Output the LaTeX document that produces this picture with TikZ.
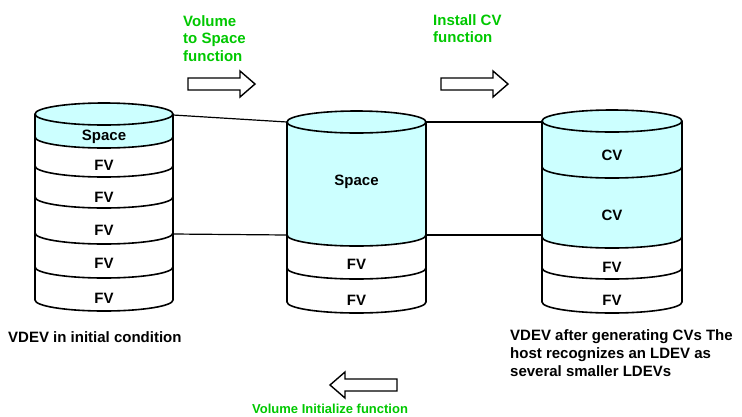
\documentclass[tikz,border=0pt]{standalone}
\usepackage{fontspec}
\setmainfont{Liberation Sans}
\usepackage{tikz}
\usetikzlibrary{positioning}
\definecolor{fngreen}{HTML}{00C800}
\definecolor{spacecyan}{HTML}{CCFFFF}

\begin{document}
\begin{tikzpicture}[
  x=1pt,y=-1pt,
  vol/.style={draw=black,line width=1.6pt},
  lab/.style={font=\fontsize{15}{18}\selectfont\bfseries,inner sep=0pt},
  fn/.style={font=\fontsize{15}{17.5}\selectfont\bfseries,text=fngreen,
             align=left,inner sep=0pt,anchor=north west},
  caption/.style={font=\fontsize{15}{18}\selectfont\bfseries,align=left,
                  inner sep=0pt,anchor=north west},
  link/.style={line width=1.2pt},
  hollowarrow/.pic={\draw[line width=1.4pt,fill=white]
      (0,-6) -- (52,-6) -- (52,-13) -- (67,0) -- (52,13) -- (52,6) -- (0,6) -- cycle;}
]
\useasboundingbox (0,0) rectangle (742,416);

% VDEV in initial condition
\foreach \ya/\yb/\col in {114/137/spacecyan,137/166/white,166/197/white,
                          197/233/white,233/267/white,267/300/white}
  \fill[\col] (35,\ya) arc[start angle=180,end angle=0,x radius=69,y radius=11]
     -- (173,\yb) arc[start angle=0,end angle=180,x radius=69,y radius=11] -- cycle;
\draw[vol,fill=spacecyan] (104,114) ellipse[x radius=69,y radius=11];
\draw[vol] (35,114) -- (35,300) arc[start angle=180,end angle=0,x radius=69,y radius=11] -- (173,114);
\foreach \y in {137,166,197,233,267}
  \draw[vol] (35,\y) arc[start angle=180,end angle=0,x radius=69,y radius=11];
\node[lab] (vs) at (104,137) {Space};
\node[lab] (vf1) at (104,165) {FV};
\node[lab] (vf2) at (104,197) {FV};
\node[lab] (vf3) at (104,230) {FV};
\node[lab] (vf4) at (104,263) {FV};
\node[lab] (vf5) at (104,298) {FV};

% VDEV after Volume to Space
\foreach \ya/\yb/\col in {122/235/spacecyan,235/268/white,268/302/white}
  \fill[\col] (287,\ya) arc[start angle=180,end angle=0,x radius=69.5,y radius=11]
     -- (426,\yb) arc[start angle=0,end angle=180,x radius=69.5,y radius=11] -- cycle;
\draw[vol,fill=spacecyan] (356.5,122) ellipse[x radius=69.5,y radius=11];
\draw[vol] (287,122) -- (287,302) arc[start angle=180,end angle=0,x radius=69.5,y radius=11] -- (426,122);
\foreach \y in {235,268}
  \draw[vol] (287,\y) arc[start angle=180,end angle=0,x radius=69.5,y radius=11];
\node[lab] (ss) at (356.5,182) {Space};
\node[lab] (sf1) at (356.5,264) {FV};
\node[lab] (sf2) at (356.5,300) {FV};

% VDEV after generating CVs
\foreach \ya/\yb/\col in {121/167/spacecyan,167/237/spacecyan,237/268/white,268/302/white}
  \fill[\col] (542,\ya) arc[start angle=180,end angle=0,x radius=70,y radius=11]
     -- (682,\yb) arc[start angle=0,end angle=180,x radius=70,y radius=11] -- cycle;
\draw[vol,fill=spacecyan] (612,121) ellipse[x radius=70,y radius=11];
\draw[vol] (542,121) -- (542,302) arc[start angle=180,end angle=0,x radius=70,y radius=11] -- (682,121);
\foreach \y in {167,237,268}
  \draw[vol] (542,\y) arc[start angle=180,end angle=0,x radius=70,y radius=11];
\node[lab] (cc1) at (612,155) {CV};
\node[lab] (cc2) at (612,215) {CV};
\node[lab] (cf1) at (612,267) {FV};
\node[lab] (cf2) at (612,300) {FV};

% links between volumes
\coordinate (vtop) at (173,115);
\coordinate (vmid) at (173,234);
\coordinate (sltop) at (287,122);
\coordinate (slmid) at (287,235);
\coordinate (srtop) at (426,122);
\coordinate (srmid) at (426,235);
\coordinate (ctop) at (542,122);
\coordinate (cmid) at (542,235);
\draw[link] (vtop) -- (sltop);
\draw[link] (vmid) -- (slmid);
\draw[link] (srtop) -- (ctop);
\draw[link] (srmid) -- (cmid);

% functions
\node[fn] (fnspace) at (183,15) {Volume\\to Space\\function};
\pic (toSpace) at (188,84) {hollowarrow};
\node[fn] (fninstall) at (433,14) {Install CV\\function};
\pic (installCV) at (441,84) {hollowarrow};
\pic[xscale=-1] (initVol) at (397,385) {hollowarrow};
\node[fn,font=\fontsize{13}{15}\selectfont\bfseries] (fninit) at (252,404) {Volume Initialize function};

% captions
\node[caption] (capinit) at (8,331) {VDEV in initial condition};
\node[caption] (capcv) at (510,329) {VDEV after generating CVs The\\host recognizes an LDEV as\\several smaller LDEVs};
\end{tikzpicture}
\end{document}
